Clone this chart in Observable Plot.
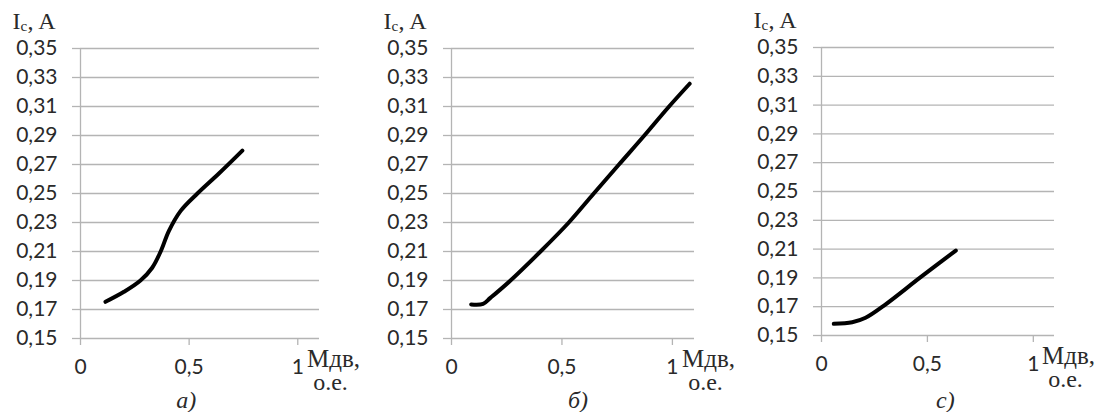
<!DOCTYPE html>
<html><head><meta charset="utf-8">
<script src="https://cdn.jsdelivr.net/npm/d3@7"></script>
<script src="https://cdn.jsdelivr.net/npm/@observablehq/plot@0.6"></script>
<style>
body{margin:0;background:#fff;}
#wrap{position:relative;width:1099px;height:412px;overflow:hidden;}
#wrap svg{position:absolute;top:0;}
</style></head><body><div id="wrap"></div>
<script>
// ---- data ----
const yTicks = [0.15, 0.17, 0.19, 0.21, 0.23, 0.25, 0.27, 0.29, 0.31, 0.33, 0.35];
const xTicks = [0, 0.5, 1];
const yLabelMain = "I";
const yLabelSub = "с";
const yLabelRest = ", A";
const xLabel1 = "Мдв,";
const xLabel2 = "о.е.";
const panelLetters = ["а)", "б)", "c)"];

const xA = [0.115, 0.20, 0.276, 0.33, 0.369, 0.407, 0.461, 0.538, 0.637, 0.745];
const yA = [0.1753, 0.1822, 0.190, 0.1988, 0.210, 0.2242, 0.238, 0.250, 0.2638, 0.2796];

const xB = [0.089, 0.143, 0.176, 0.267, 0.403, 0.531, 0.644, 0.758, 0.873, 0.979, 1.078];
const yB = [0.1735, 0.1739, 0.178, 0.190, 0.210, 0.230, 0.250, 0.270, 0.290, 0.309, 0.3257];

const xC = [0.058, 0.145, 0.208, 0.295, 0.468, 0.634];
const yC = [0.1581, 0.1592, 0.1623, 0.1708, 0.1905, 0.209];

// ---- layout per panel ----
const panels = [
  {left: 0,   width: 366, ml: 80, mr: 47, mt: 48, mb: 74, xs: xA, ys: yA, ldx: -3},
  {left: 366, width: 366, ml: 85, mr: 38, mt: 48, mb: 74, xs: xB, ys: yB, ldx: 16},
  {left: 732, width: 367, ml: 89, mr: 45, mt: 47, mb: 77, xs: xC, ys: yC, ldx: 18}
];

const gridColor = "#b4b4b4";
const textColor = "#2a2a2a";
const fmtY = t => t.toFixed(2).replace(".", ",");
const fmtX = t => String(t).replace(".", ",");
const serif = "'Liberation Serif', 'Times New Roman', serif";
const sans = "Lato, 'Liberation Sans', sans-serif";

const wrap = document.getElementById("wrap");
panels.forEach((p, i) => {
  const data = p.xs.map((x, k) => ({x, y: p.ys[k]}));
  const bottomDy = 412 - p.mb;
  const chart = Plot.plot({
    width: p.width, height: 412,
    marginLeft: p.ml, marginRight: p.mr, marginTop: p.mt, marginBottom: p.mb,
    style: {fontFamily: sans, background: "transparent", overflow: "visible"},
    x: {domain: [0, 1.1], axis: null},
    y: {domain: [0.15, 0.35], axis: null},
    marks: [
      Plot.gridY(yTicks, {stroke: gridColor, strokeOpacity: 1, strokeWidth: 1.3}),
      Plot.ruleX([0], {stroke: gridColor, strokeWidth: 1.3}),
      Plot.axisY({ticks: yTicks, tickFormat: fmtY, tickSize: 8, tickPadding: 15,
        stroke: gridColor, strokeWidth: 1.3, fill: textColor, fontSize: 21, label: null}),
      Plot.axisX({ticks: xTicks, tickFormat: fmtX, tickSize: 7, tickPadding: 14,
        stroke: gridColor, strokeWidth: 1.3, fill: textColor, fontSize: 21, label: null}),
      Plot.line(data, {x: "x", y: "y", curve: "catmull-rom", stroke: "#000",
        strokeWidth: 4, strokeLinecap: "round", strokeLinejoin: "round"}),
      // y-axis title "Iс, A"
      Plot.text([yLabelMain], {frameAnchor: "top-left", lineAnchor: "middle", dx: -68, dy: -27, textAnchor: "start",
        fontFamily: serif, fontSize: 24, fill: textColor}),
      Plot.text([yLabelSub], {frameAnchor: "top-left", lineAnchor: "middle", dx: -60, dy: -22, textAnchor: "start",
        fontFamily: serif, fontSize: 15, fill: textColor}),
      Plot.text([yLabelRest], {frameAnchor: "top-left", lineAnchor: "middle", dx: -53, dy: -27, textAnchor: "start",
        fontFamily: serif, fontSize: 24, fill: textColor}),
      // x-axis title
      Plot.text([xLabel1], {frameAnchor: "bottom-right", lineAnchor: "middle", dx: 14, dy: 20, textAnchor: "middle",
        fontFamily: serif, fontSize: 25, fill: textColor}),
      Plot.text([xLabel2], {frameAnchor: "bottom-right", lineAnchor: "middle", dx: 11, dy: 44, textAnchor: "middle",
        fontFamily: serif, fontSize: 24, fill: textColor}),
      // panel letter
      Plot.text([panelLetters[i]], {x: () => xTicks[1], frameAnchor: "bottom", lineAnchor: "middle",
        dy: 400 - bottomDy, dx: p.ldx, textAnchor: "middle",
        fontFamily: serif, fontStyle: "italic", fontSize: 24, fill: textColor})
    ]
  });
  chart.style.left = p.left + "px";
  wrap.appendChild(chart);
});
</script>
</body></html>
